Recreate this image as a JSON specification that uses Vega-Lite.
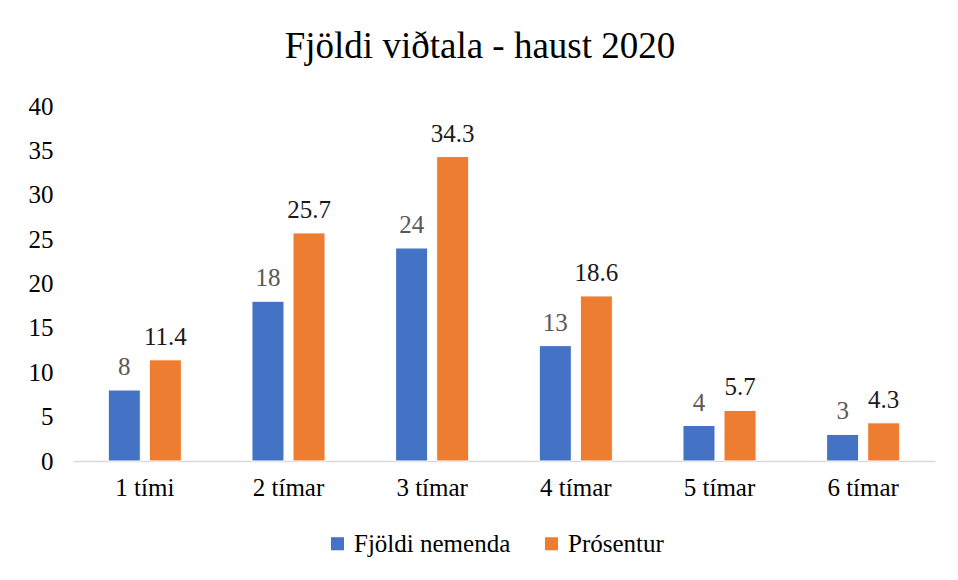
{
  "$schema": "https://vega.github.io/schema/vega-lite/v6.json",
  "width": 862,
  "height": 355,
  "autosize": {"type": "none"},
  "padding": {"left": 73, "top": 106, "right": 23, "bottom": 119},
  "background": "white",
  "title": {
    "text": "Fjöldi viðtala - haust 2020",
    "font": "Liberation Serif, DejaVu Serif, serif",
    "fontSize": 37,
    "fontWeight": "normal",
    "color": "#000000",
    "anchor": "middle",
    "dx": -24,
    "offset": 28
  },
  "config": {
    "view": {"stroke": null},
    "font": "Liberation Serif, DejaVu Serif, serif"
  },
  "data": {
    "values": [
      {"cat": "1 tími", "serie": "Fjöldi nemenda", "value": 8},
      {"cat": "1 tími", "serie": "Prósentur", "value": 11.4},
      {"cat": "2 tímar", "serie": "Fjöldi nemenda", "value": 18},
      {"cat": "2 tímar", "serie": "Prósentur", "value": 25.7},
      {"cat": "3 tímar", "serie": "Fjöldi nemenda", "value": 24},
      {"cat": "3 tímar", "serie": "Prósentur", "value": 34.3},
      {"cat": "4 tímar", "serie": "Fjöldi nemenda", "value": 13},
      {"cat": "4 tímar", "serie": "Prósentur", "value": 18.6},
      {"cat": "5 tímar", "serie": "Fjöldi nemenda", "value": 4},
      {"cat": "5 tímar", "serie": "Prósentur", "value": 5.7},
      {"cat": "6 tímar", "serie": "Fjöldi nemenda", "value": 3},
      {"cat": "6 tímar", "serie": "Prósentur", "value": 4.3}
    ]
  },
  "encoding": {
    "x": {
      "field": "cat",
      "type": "nominal",
      "sort": null,
      "title": null,
      "scale": {"paddingInner": 0, "paddingOuter": 0},
      "axis": {
        "labelAngle": 0,
        "labelFont": "Liberation Serif, DejaVu Serif, serif",
        "labelFontSize": 25,
        "labelColor": "#000000",
        "labelPadding": 14,
        "ticks": false,
        "domainColor": "#d9d9d9",
        "domainWidth": 1.5,
        "grid": false
      }
    },
    "xOffset": {
      "field": "serie",
      "type": "nominal",
      "scale": {"paddingInner": 0.22, "paddingOuter": 0.86}
    },
    "y": {
      "field": "value",
      "type": "quantitative",
      "title": null,
      "scale": {"domain": [0, 40]},
      "axis": {
        "values": [0, 5, 10, 15, 20, 25, 30, 35, 40],
        "labelFont": "Liberation Serif, DejaVu Serif, serif",
        "labelFontSize": 25,
        "labelColor": "#000000",
        "labelPadding": 20,
        "ticks": false,
        "domain": false,
        "grid": false
      }
    }
  },
  "layer": [
    {
      "mark": {"type": "bar", "stroke": "white", "strokeWidth": 1},
      "encoding": {
        "color": {
          "field": "serie",
          "type": "nominal",
          "scale": {"domain": ["Fjöldi nemenda", "Prósentur"], "range": ["#4472C4", "#ED7D31"]},
          "legend": {
            "title": null,
            "orient": "none",
            "legendX": 252,
            "legendY": 425,
            "direction": "horizontal",
            "symbolType": "square",
            "symbolSize": 170,
            "symbolStrokeWidth": 0,
            "labelFont": "Liberation Serif, DejaVu Serif, serif",
            "labelFontSize": 25,
            "labelColor": "#000000",
            "labelOffset": 4,
            "columnPadding": 28
          }
        }
      }
    },
    {
      "mark": {"type": "text", "baseline": "alphabetic", "dy": -15, "font": "Liberation Serif, DejaVu Serif, serif", "fontSize": 25},
      "encoding": {
        "text": {"field": "value", "type": "quantitative", "format": ".3~g"},
        "color": {
          "condition": {"test": "datum.serie === 'Prósentur'", "value": "#1a1a1a"},
          "value": "#595959"
        }
      }
    }
  ]
}
